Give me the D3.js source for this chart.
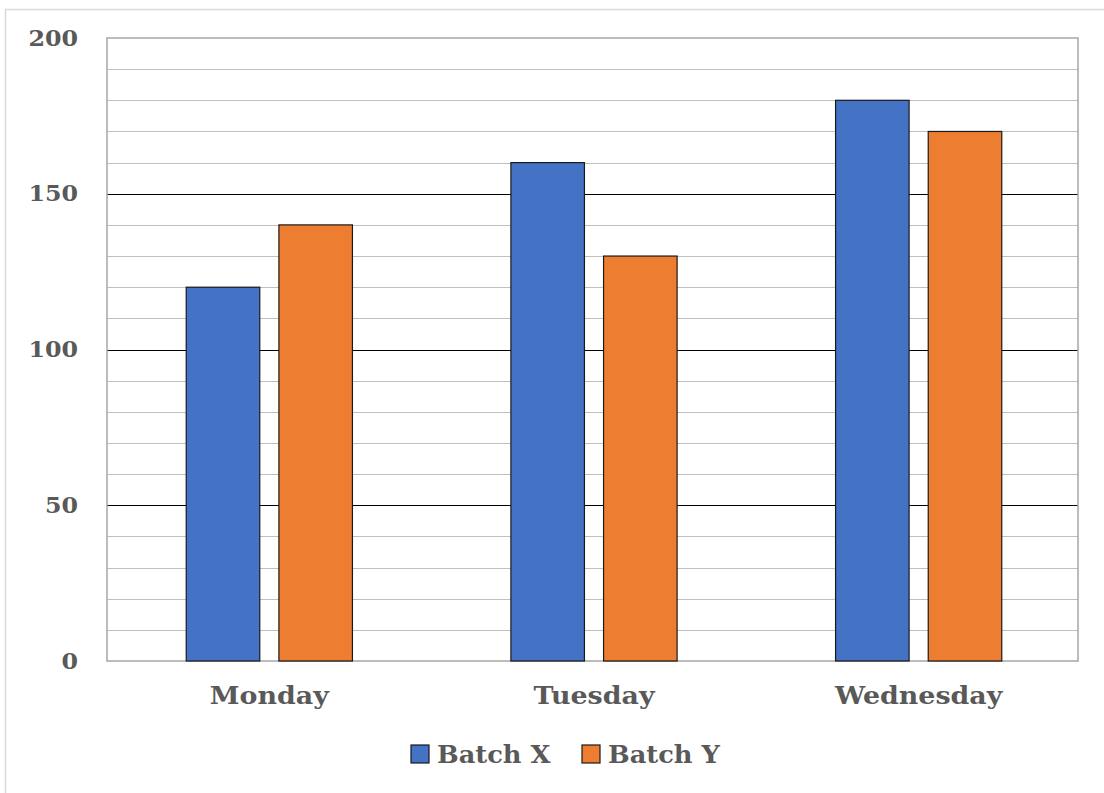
<!DOCTYPE html>
<html>
<head>
<meta charset="utf-8">
<script src="https://cdn.jsdelivr.net/npm/d3@7"></script>
<style>
  html, body { margin: 0; padding: 0; background: #fff; }
  svg { display: block; }
  text { font-family: "DejaVu Serif", serif; font-weight: bold; fill: #595959; }
</style>
</head>
<body>
<svg id="chart" width="1104" height="793"></svg>
<script>
// Daily output per batch
const categories = ["Monday", "Tuesday", "Wednesday"];
const seriesNames = ["Batch X", "Batch Y"];
const batchX = [120, 160, 180];
const batchY = [140, 130, 170];
const yTicks = [0, 50, 100, 150, 200];
const seriesColors = ["#4472c4", "#ed7d31"];

const svg = d3.select("#chart");
const W = 1104, H = 793;
const plot = { left: 107, right: 1078, top: 38, bottom: 661 };

// Outer chart frame
svg.append("rect")
  .attr("x", 5.5).attr("y", 9.5)
  .attr("width", W).attr("height", H)
  .attr("fill", "#fff").attr("stroke", "#d9d9d9").attr("stroke-width", 1.5);

const y = d3.scaleLinear().domain([0, 200]).range([plot.bottom, plot.top]);
const x0 = d3.scaleBand().domain(categories).range([plot.left, plot.right + 3]).paddingInner(0).paddingOuter(0);
const x1 = d3.scaleBand().domain(seriesNames).range([0, x0.bandwidth()])
  .paddingInner(0.2065).paddingOuter(0.855);

// Minor gridlines every 10
const minor = d3.range(10, 200, 10).filter(v => v % 50 !== 0);
svg.append("g").selectAll("line").data(minor).join("line")
  .attr("x1", plot.left).attr("x2", plot.right)
  .attr("y1", d => Math.round(y(d)) + 0.5).attr("y2", d => Math.round(y(d)) + 0.5)
  .attr("stroke", "#bfbfbf").attr("stroke-width", 1);

// Major gridlines
svg.append("g").selectAll("line").data([50, 100, 150]).join("line")
  .attr("x1", plot.left).attr("x2", plot.right)
  .attr("y1", d => Math.round(y(d)) + 0.5).attr("y2", d => Math.round(y(d)) + 0.5)
  .attr("stroke", "#000").attr("stroke-width", 1);

// Plot area border
svg.append("rect")
  .attr("x", plot.left).attr("y", plot.top)
  .attr("width", plot.right - plot.left).attr("height", plot.bottom - plot.top)
  .attr("fill", "none").attr("stroke", "#a6a6a6").attr("stroke-width", 1.5);

// Bars
const rows = categories.map((c, i) => ({ cat: c, vals: [batchX[i], batchY[i]] }));
const groups = svg.append("g").selectAll("g").data(rows).join("g")
  .attr("transform", d => `translate(${x0(d.cat)},0)`);
groups.selectAll("rect")
  .data(d => d.vals.map((v, j) => ({ name: seriesNames[j], v, j })))
  .join("rect")
  .attr("x", d => x1(d.name))
  .attr("y", d => y(d.v))
  .attr("width", x1.bandwidth())
  .attr("height", d => y(0) - y(d.v))
  .attr("fill", d => seriesColors[d.j])
  .attr("stroke", "#1a1a1a").attr("stroke-width", 1.2);

// Y axis labels (right-aligned, slightly widened)
const yAxis = d3.axisLeft(y).tickValues(yTicks).tickSize(0).tickPadding(0);
const gy = svg.append("g").attr("transform", `translate(78,0)`).call(yAxis);
gy.select(".domain").remove();
gy.selectAll("text").attr("font-size", 22).attr("fill", "#595959")
  .attr("font-family", "DejaVu Serif").attr("font-weight", "bold")
  .attr("transform", "scale(1.08,1)");

// X axis labels
const xAxis = d3.axisBottom(x0).tickSize(0).tickPadding(0);
const gx = svg.append("g").attr("transform", `translate(0,${plot.bottom})`).call(xAxis);
gx.select(".domain").remove();
gx.selectAll("text").attr("dy", null).attr("y", 43).attr("font-size", 24).attr("fill", "#595959")
  .attr("font-family", "DejaVu Serif").attr("font-weight", "bold")
  .attr("transform", "scale(1.12,1)");

// Legend
const legendItems = [
  { name: seriesNames[0], color: seriesColors[0], x: 411 },
  { name: seriesNames[1], color: seriesColors[1], x: 582 }
];
const lg = svg.append("g").selectAll("g").data(legendItems).join("g")
  .attr("transform", d => `translate(${d.x},745)`);
lg.append("rect").attr("width", 18).attr("height", 18)
  .attr("fill", d => d.color).attr("stroke", "#1a1a1a").attr("stroke-width", 1.2);
lg.append("text").attr("transform", "translate(26,18) scale(1.07,1)")
  .attr("font-size", 24).text(d => d.name);
</script>
</body>
</html>
